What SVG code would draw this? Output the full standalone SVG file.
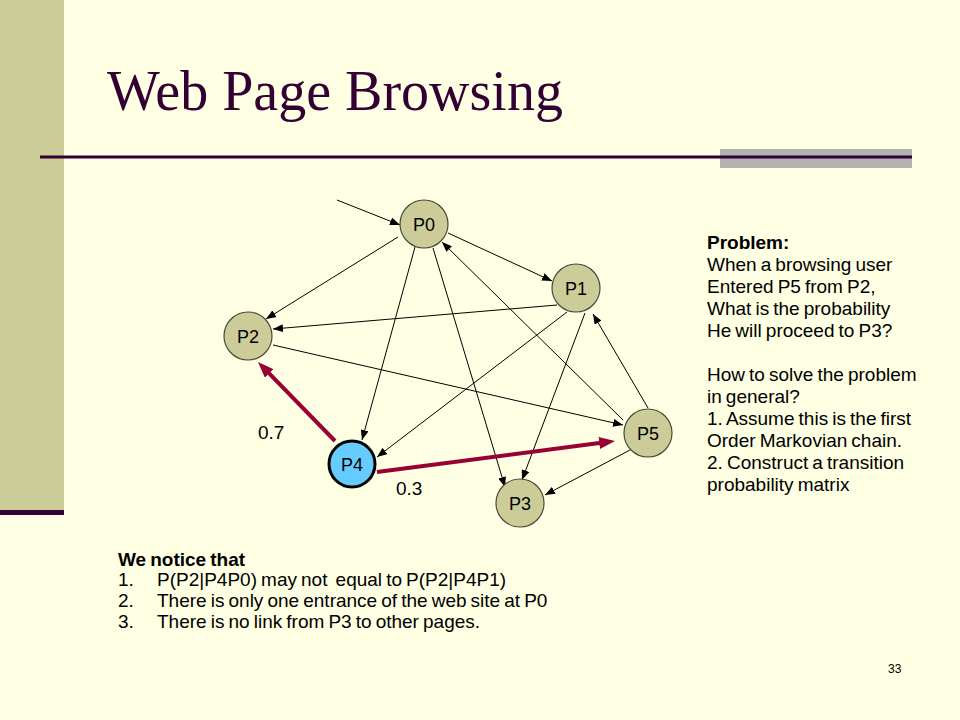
<svg xmlns="http://www.w3.org/2000/svg" width="960" height="720" viewBox="0 0 960 720">
<style>
.t{font-family:"Liberation Sans",Arial,sans-serif;font-size:19px;word-spacing:-1.2px;fill:#000}
.b{font-weight:bold}
.lbl{font-family:"Liberation Sans",Arial,sans-serif;font-size:18px;fill:#000;text-anchor:middle}
.node{fill:#CCCC99;stroke:#4a4a3a;stroke-width:1.2}
.edge{stroke:#000;stroke-width:1;fill:none;marker-end:url(#ah)}
.hot{stroke:#990033;stroke-width:4;fill:none;marker-end:url(#ahb)}
</style>
<defs>
<marker id="ah" viewBox="0 0 10 8" refX="10" refY="4" markerWidth="10" markerHeight="8" markerUnits="userSpaceOnUse" orient="auto">
<path d="M0,0 L10,4 L0,8 z" fill="#000"/>
</marker>
<marker id="ahb" viewBox="0 0 16 12" refX="6" refY="6" markerWidth="16" markerHeight="12" markerUnits="userSpaceOnUse" orient="auto">
<path d="M0,0 L16,6 L0,12 z" fill="#990033"/>
</marker>
</defs>
<rect x="0" y="0" width="960" height="720" fill="#FFFFE3"/>
<rect x="0" y="0" width="64" height="510" fill="#CCCC99"/>
<rect x="0" y="510" width="64" height="5" fill="#330033"/>
<text x="107" y="110" font-family="'Liberation Serif','Times New Roman',serif" font-size="56" fill="#330033">Web Page Browsing</text>
<rect x="720" y="149" width="192" height="19" fill="#B2B2B2"/>
<line x1="40" y1="157" x2="912" y2="157" stroke="#330033" stroke-width="3"/>

<g id="connectors">
<line class="edge" x1="337" y1="200" x2="400" y2="225"/>
<line class="edge" x1="448" y1="233" x2="552" y2="281"/>
<line class="edge" x1="398" y1="237" x2="266" y2="319"/>
<line class="edge" x1="415" y1="247" x2="362" y2="440"/>
<line class="edge" x1="433" y1="248" x2="505" y2="487"/>
<line class="edge" x1="623" y1="420" x2="442" y2="242"/>
<line class="edge" x1="557" y1="305" x2="273" y2="329"/>
<line class="edge" x1="567" y1="312" x2="377" y2="457"/>
<line class="edge" x1="585" y1="313" x2="522" y2="480"/>
<line class="edge" x1="273" y1="345" x2="623" y2="425"/>
<line class="edge" x1="648" y1="408" x2="593" y2="314"/>
<line class="edge" x1="630" y1="450" x2="545" y2="495"/>
<line class="hot" x1="335" y1="441" x2="265" y2="369.2"/>
<line class="hot" x1="377" y1="472" x2="605.1" y2="442.3"/>
</g>

<g id="P0"><circle class="node" cx="424" cy="224" r="24"/><text class="lbl" x="424" y="230.5">P0</text></g>
<g id="P1"><circle class="node" cx="576" cy="288" r="24"/><text class="lbl" x="576" y="294.5">P1</text></g>
<g id="P2"><circle class="node" cx="248" cy="336" r="24"/><text class="lbl" x="248" y="342.5">P2</text></g>
<g id="P3"><circle class="node" cx="520" cy="503" r="24"/><text class="lbl" x="520" y="509.5">P3</text></g>
<g id="P4"><circle cx="352" cy="464" r="23" fill="#66CCFF" stroke="#000" stroke-width="3"/><text class="lbl" x="352" y="470.5">P4</text></g>
<g id="P5"><circle class="node" cx="648" cy="433" r="24"/><text class="lbl" x="648" y="439.5">P5</text></g>

<g id="edge-labels">
<text class="t" x="258" y="439">0.7</text>
<text class="t" x="396" y="495">0.3</text>
</g>

<g id="problem">
<text class="t b" x="707" y="249">Problem:</text>
<text class="t" x="707" y="271">When a browsing user</text>
<text class="t" x="707" y="293">Entered P5 from P2,</text>
<text class="t" x="707" y="315">What is the probability</text>
<text class="t" x="707" y="337">He will proceed to P3?</text>
<text class="t" x="707" y="381">How to solve the problem</text>
<text class="t" x="707" y="403">in general?</text>
<text class="t" x="707" y="425">1. Assume this is the first</text>
<text class="t" x="707" y="447">Order Markovian chain.</text>
<text class="t" x="707" y="469">2. Construct a transition</text>
<text class="t" x="707" y="491">probability matrix</text>
</g>

<g id="notes">
<text class="t b" x="118" y="566">We notice that</text>
<text class="t" x="118" y="586">1.</text>
<text class="t" x="157" y="586" xml:space="preserve">P(P2|P4P0) may not  equal to P(P2|P4P1)</text>
<text class="t" x="118" y="607">2.</text>
<text class="t" x="157" y="607">There is only one entrance of the web site at P0</text>
<text class="t" x="118" y="628">3.</text>
<text class="t" x="157" y="628">There is no link from P3 to other pages.</text>
</g>
<text x="888" y="673" font-family="'Liberation Sans',Arial,sans-serif" font-size="12" fill="#000">33</text>
</svg>
